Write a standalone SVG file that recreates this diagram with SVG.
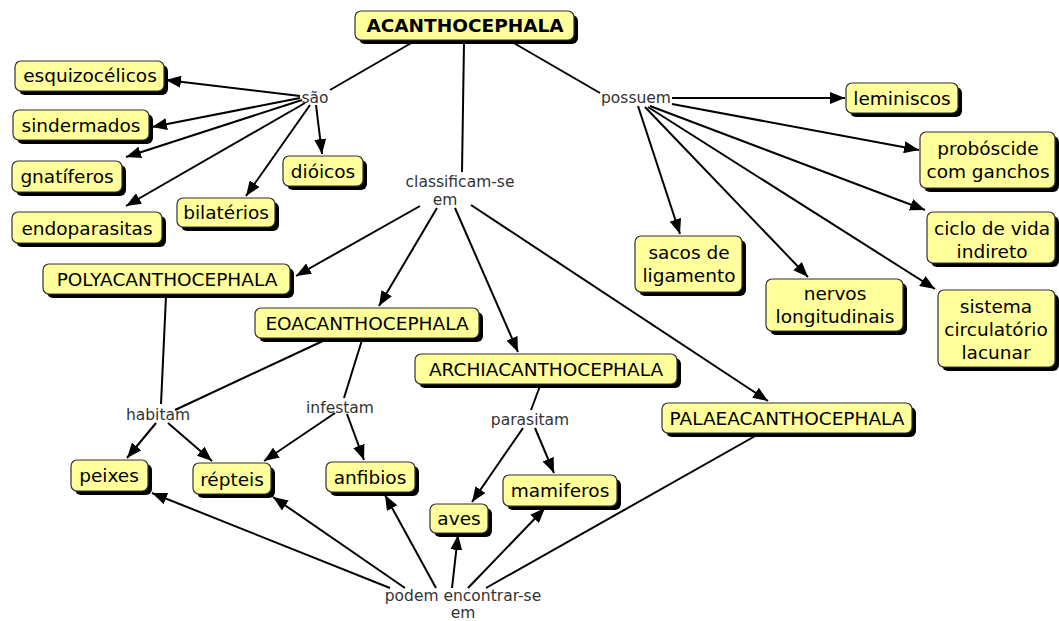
<svg xmlns="http://www.w3.org/2000/svg" width="1059" height="621" viewBox="0 0 1059 621">
<style>
.sh{fill:#000}
.bx{fill:#ffff9c;stroke:#333;stroke-width:1.2}
.t{font-family:"DejaVu Sans",Verdana,sans-serif;font-size:18.5px;fill:#000;text-anchor:middle}
.tb{font-weight:bold}
.lp{font-family:"DejaVu Sans",Verdana,sans-serif;font-size:15.5px;fill:#333;text-anchor:middle}
#connectors line{stroke:#000;stroke-width:2}
.a{marker-end:url(#ah)}
</style>
<defs>
<marker id="ah" markerUnits="userSpaceOnUse" markerWidth="16" markerHeight="12" refX="15" refY="6" orient="auto">
<path d="M0,0 L15,6 L0,12 z" fill="#000"/>
</marker>
</defs>
<rect width="1059" height="621" fill="#fff"/>
<g id="connectors">
<line x1="413" y1="42" x2="330" y2="90"/>
<line x1="464" y1="42" x2="462" y2="172"/>
<line x1="512" y1="42" x2="600" y2="93"/>
<line class="a" x1="300" y1="96" x2="166" y2="80"/>
<line class="a" x1="300" y1="98" x2="152" y2="127"/>
<line class="a" x1="302" y1="100" x2="126" y2="157"/>
<line class="a" x1="305" y1="103" x2="126" y2="206"/>
<line class="a" x1="310" y1="105" x2="246" y2="196"/>
<line class="a" x1="316" y1="105" x2="322" y2="154"/>
<line class="a" x1="672" y1="98" x2="845" y2="98"/>
<line class="a" x1="672" y1="104" x2="919" y2="150"/>
<line class="a" x1="650" y1="106" x2="925" y2="210"/>
<line class="a" x1="648" y1="107" x2="935" y2="289"/>
<line class="a" x1="645" y1="107" x2="808" y2="277"/>
<line class="a" x1="638" y1="106" x2="680" y2="234"/>
<line class="a" x1="420" y1="206" x2="296" y2="276"/>
<line class="a" x1="437" y1="208" x2="379" y2="306"/>
<line class="a" x1="455" y1="208" x2="518" y2="352"/>
<line class="a" x1="471" y1="205" x2="768" y2="401"/>
<line x1="166" y1="296" x2="161" y2="404"/>
<line x1="325" y1="340" x2="175" y2="410"/>
<line class="a" x1="156" y1="423" x2="127" y2="458"/>
<line class="a" x1="168" y1="423" x2="212" y2="461"/>
<line x1="362" y1="340" x2="344" y2="398"/>
<line class="a" x1="335" y1="413" x2="264" y2="461"/>
<line class="a" x1="347" y1="414" x2="364" y2="460"/>
<line x1="540" y1="386" x2="531" y2="410"/>
<line class="a" x1="523" y1="428" x2="472" y2="502"/>
<line class="a" x1="535" y1="428" x2="554" y2="473"/>
<line x1="757" y1="435" x2="486" y2="588"/>
<line class="a" x1="468" y1="588" x2="545" y2="508"/>
<line class="a" x1="452" y1="588" x2="458" y2="535"/>
<line class="a" x1="436" y1="588" x2="385" y2="495"/>
<line class="a" x1="405" y1="588" x2="273" y2="497"/>
<line class="a" x1="390" y1="588" x2="152" y2="493"/>
</g>
<g id="lp-sao"><text class="lp" x="315" y="103">são</text></g>
<g id="lp-possuem"><text class="lp" x="636" y="103">possuem</text></g>
<g id="lp-classificam"><text class="lp" x="460" y="187">classificam-se</text><text class="lp" x="445" y="205">em</text></g>
<g id="lp-podem"><text class="lp" x="463" y="601">podem encontrar-se</text><text class="lp" x="463" y="618" font-size="14">em</text></g>
<g id="lp-habitam"><text class="lp" x="158" y="420">habitam</text></g>
<g id="lp-infestam"><text class="lp" x="340" y="413">infestam</text></g>
<g id="lp-parasitam"><text class="lp" x="530" y="425">parasitam</text></g>

<g id="n-acanthocephala"><rect class="sh" x="359" y="15" width="219" height="29" rx="6"/><rect class="bx" x="355" y="11" width="219" height="29" rx="6"/><text class="t tb" x="465" y="32">ACANTHOCEPHALA</text></g>
<g id="n-esquizocelicos"><rect class="sh" x="19" y="65" width="149" height="30" rx="6"/><rect class="bx" x="15" y="61" width="149" height="30" rx="6"/><text class="t" x="90" y="82">esquizocélicos</text></g>
<g id="n-sindermados"><rect class="sh" x="17" y="114" width="136" height="30" rx="6"/><rect class="bx" x="13" y="110" width="136" height="30" rx="6"/><text class="t" x="81" y="132">sindermados</text></g>
<g id="n-gnatiferos"><rect class="sh" x="16" y="165" width="110" height="31" rx="6"/><rect class="bx" x="12" y="161" width="110" height="31" rx="6"/><text class="t" x="67" y="183">gnatíferos</text></g>
<g id="n-endoparasitas"><rect class="sh" x="16" y="216" width="150" height="31" rx="6"/><rect class="bx" x="12" y="212" width="150" height="31" rx="6"/><text class="t" x="87" y="235">endoparasitas</text></g>
<g id="n-bilaterios"><rect class="sh" x="181" y="202" width="98" height="29" rx="6"/><rect class="bx" x="177" y="198" width="98" height="29" rx="6"/><text class="t" x="226" y="219">bilatérios</text></g>
<g id="n-dioicos"><rect class="sh" x="287" y="160" width="80" height="30" rx="6"/><rect class="bx" x="283" y="156" width="80" height="30" rx="6"/><text class="t" x="323" y="178">dióicos</text></g>
<g id="n-leminiscos"><rect class="sh" x="850" y="87" width="112" height="30" rx="6"/><rect class="bx" x="846" y="83" width="112" height="30" rx="6"/><text class="t" x="902" y="105">leminiscos</text></g>
<g id="n-proboscide"><rect class="sh" x="924" y="136" width="135" height="56" rx="6"/><rect class="bx" x="920" y="132" width="135" height="56" rx="6"/><text class="t" x="988" y="155">probóscide</text><text class="t" x="988" y="178">com ganchos</text></g>
<g id="n-ciclo"><rect class="sh" x="931" y="216" width="128" height="51" rx="6"/><rect class="bx" x="927" y="212" width="128" height="51" rx="6"/><text class="t" x="992" y="235">ciclo de vida</text><text class="t" x="992" y="258">indireto</text></g>
<g id="n-sacos"><rect class="sh" x="639" y="240" width="107" height="56" rx="6"/><rect class="bx" x="635" y="236" width="107" height="56" rx="6"/><text class="t" x="689" y="259">sacos de</text><text class="t" x="689" y="282">ligamento</text></g>
<g id="n-nervos"><rect class="sh" x="770" y="283" width="137" height="52" rx="6"/><rect class="bx" x="766" y="279" width="137" height="52" rx="6"/><text class="t" x="835" y="300">nervos</text><text class="t" x="835" y="323">longitudinais</text></g>
<g id="n-sistema"><rect class="sh" x="942" y="294" width="117" height="77" rx="6"/><rect class="bx" x="938" y="290" width="117" height="77" rx="6"/><text class="t" x="996" y="313">sistema</text><text class="t" x="996" y="336">circulatório</text><text class="t" x="996" y="359">lacunar</text></g>
<g id="n-poly"><rect class="sh" x="47" y="268" width="247" height="30" rx="6"/><rect class="bx" x="43" y="264" width="247" height="30" rx="6"/><text class="t" x="167" y="286">POLYACANTHOCEPHALA</text></g>
<g id="n-eo"><rect class="sh" x="259" y="312" width="224" height="30" rx="6"/><rect class="bx" x="255" y="308" width="224" height="30" rx="6"/><text class="t" x="367" y="330">EOACANTHOCEPHALA</text></g>
<g id="n-archi"><rect class="sh" x="419" y="358" width="262" height="30" rx="6"/><rect class="bx" x="415" y="354" width="262" height="30" rx="6"/><text class="t" x="546" y="376">ARCHIACANTHOCEPHALA</text></g>
<g id="n-palae"><rect class="sh" x="666" y="407" width="250" height="30" rx="6"/><rect class="bx" x="662" y="403" width="250" height="30" rx="6"/><text class="t" x="787" y="425">PALAEACANTHOCEPHALA</text></g>
<g id="n-peixes"><rect class="sh" x="75" y="464" width="77" height="31" rx="6"/><rect class="bx" x="71" y="460" width="77" height="31" rx="6"/><text class="t" x="109" y="482">peixes</text></g>
<g id="n-repteis"><rect class="sh" x="197" y="467" width="78" height="31" rx="6"/><rect class="bx" x="193" y="463" width="78" height="31" rx="6"/><text class="t" x="232" y="486">répteis</text></g>
<g id="n-anfibios"><rect class="sh" x="330" y="466" width="89" height="30" rx="6"/><rect class="bx" x="326" y="462" width="89" height="30" rx="6"/><text class="t" x="370" y="484">anfibios</text></g>
<g id="n-aves"><rect class="sh" x="434" y="508" width="58" height="29" rx="6"/><rect class="bx" x="430" y="504" width="58" height="29" rx="6"/><text class="t" x="459" y="525">aves</text></g>
<g id="n-mamiferos"><rect class="sh" x="507" y="479" width="114" height="31" rx="6"/><rect class="bx" x="503" y="475" width="114" height="31" rx="6"/><text class="t" x="560" y="497">mamiferos</text></g>
</svg>
